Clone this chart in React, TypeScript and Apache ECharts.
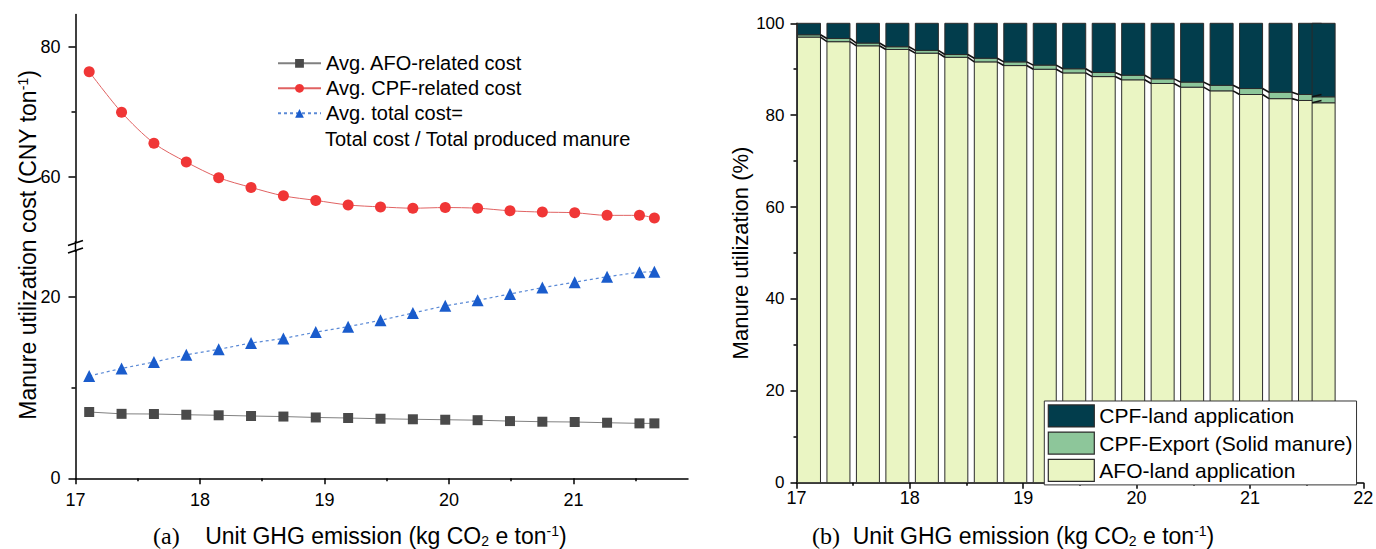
import React, { useEffect, useRef } from "react";
import * as echarts from "echarts";

// ---------- data ----------
const emission = [17.11, 17.37, 17.63, 17.89, 18.15, 18.41, 18.67, 18.93, 19.19, 19.45, 19.71, 19.97, 20.23, 20.49, 20.75, 21.01, 21.27, 21.53, 21.65];
const afoCost = [7.3, 7.1, 7.08, 7.0, 6.94, 6.86, 6.8, 6.7, 6.64, 6.56, 6.5, 6.45, 6.4, 6.3, 6.23, 6.2, 6.12, 6.05, 6.05];
const cpfCost = [76.2, 69.95, 65.2, 62.3, 59.9, 58.4, 57.1, 56.4, 55.7, 55.4, 55.2, 55.3, 55.2, 54.8, 54.6, 54.5, 54.1, 54.1, 53.7];
const totalCost = [11.27, 12.1, 12.8, 13.6, 14.2, 14.9, 15.4, 16.1, 16.7, 17.4, 18.2, 19.0, 19.6, 20.3, 21.0, 21.6, 22.2, 22.7, 22.75];

const afoLand = [97.0, 96.0, 95.1, 94.3, 93.5, 92.6, 91.6, 90.8, 90.0, 89.2, 88.4, 87.7, 86.9, 86.1, 85.3, 84.5, 83.6, 83.2, 82.7];
const cpfExport = [0.5, 0.7, 0.6, 0.6, 0.6, 0.6, 0.8, 0.8, 0.9, 0.9, 0.9, 1.0, 1.0, 1.1, 1.2, 1.3, 1.4, 1.3, 1.3];
const cpfLand = [2.5, 3.3, 4.3, 5.1, 5.9, 6.8, 7.6, 8.4, 9.1, 9.9, 10.7, 11.3, 12.1, 12.8, 13.5, 14.2, 15.0, 15.5, 16.0];

// tick labels
const xMajorLeft = [17, 18, 19, 20, 21];
const xMinorLeft = [17.5, 18.5, 19.5, 20.5, 21.5];
const yUpperMajor = [60, 80];
const yUpperMinor = [70];
const yLowerMajor = [0, 20];
const yLowerMinor = [10];

const legendLeft = ["Avg. AFO-related cost", "Avg. CPF-related cost", "Avg. total cost="];
const legendLeftExtra = "Total cost / Total produced manure";
const legendRight = ["CPF-land application", "CPF-Export (Solid manure)", "AFO-land application"];

const FONT = "'Liberation Sans', Arial, Helvetica, sans-serif";
const SERIF = "'Liberation Serif', 'Times New Roman', serif";
const BAR_W = 23;

const yTitleRich = {
  n: { fontFamily: FONT, fontSize: 23, lineHeight: 24, color: "#000" },
  sup: { fontFamily: FONT, fontSize: 14, lineHeight: 13, verticalAlign: "top", color: "#000" },
};
const xTitleRich = {
  s: { fontFamily: SERIF, fontSize: 24, lineHeight: 24, color: "#000" },
  n: { fontFamily: FONT, fontSize: 23, lineHeight: 24, color: "#000" },
  sub: { fontFamily: FONT, fontSize: 14, lineHeight: 14, verticalAlign: "bottom", color: "#000" },
  sup: { fontFamily: FONT, fontSize: 14, lineHeight: 14, verticalAlign: "top", color: "#000" },
};

// one stacked layer drawn from [x, low, high]
const layerRender = (params: any, api: any) => {
  const x = api.value(0);
  const pLow = api.coord([x, api.value(1)]);
  const pHigh = api.coord([x, api.value(2)]);
  return {
    type: "rect",
    shape: { x: pLow[0] - BAR_W / 2, y: pHigh[1], width: BAR_W, height: pLow[1] - pHigh[1] },
    style: api.style(),
  };
};

export default function App() {
  const ref = useRef<HTMLDivElement>(null);

  useEffect(() => {
    document.body.style.margin = "0";
    const chart = echarts.init(ref.current!, null, { renderer: "svg" });

    const axisLineStyle = { color: "#000", width: 1.5 };
    const lbl = (size: number, margin: number, extra: any = {}) => ({
      color: "#000",
      fontFamily: FONT,
      fontSize: size,
      margin,
      ...extra,
    });

    const afoTop = afoLand;
    const exportTop = afoLand.map((v, i) => v + cpfExport[i]);
    const landTop = exportTop.map((v, i) => v + cpfLand[i]);

    const connectorData = emission.slice(0, -1).map((x, i) => [
      x,
      emission[i + 1],
      afoTop[i],
      afoTop[i + 1],
      exportTop[i],
      exportTop[i + 1],
    ]);

    const option: any = {
      animation: false,
      backgroundColor: "#fff",
      textStyle: { fontFamily: FONT },
      grid: [
        { left: 75.5, top: 14.5, width: 612.5, height: 227.5, outerBoundsMode: "none" },
        { left: 75.5, top: 251.3, width: 612.5, height: 227, outerBoundsMode: "none" },
        { left: 796.5, top: 23.3, width: 566.8, height: 459.4, outerBoundsMode: "none" },
      ],
      xAxis: [
        { type: "value", gridIndex: 0, min: 17, max: 21.92, show: false },
        {
          type: "value", gridIndex: 1, min: 17, max: 21.92, position: "bottom",
          axisLine: { lineStyle: axisLineStyle },
          axisTick: { customValues: xMajorLeft, length: 6, lineStyle: axisLineStyle },
          axisLabel: lbl(18, 13, { customValues: xMajorLeft }),
          splitLine: { show: false },
        },
        {
          type: "value", gridIndex: 1, min: 17, max: 21.92, position: "bottom",
          axisLine: { show: false },
          axisTick: { customValues: xMinorLeft, length: 3, lineStyle: axisLineStyle },
          axisLabel: { show: false },
          splitLine: { show: false },
        },
        {
          type: "value", gridIndex: 2, min: 17, max: 22, interval: 1,
          axisLine: { lineStyle: axisLineStyle },
          axisTick: { length: 6, lineStyle: axisLineStyle },
          minorTick: { show: true, splitNumber: 2, length: 3, lineStyle: axisLineStyle },
          axisLabel: lbl(18, 6),
          splitLine: { show: false },
        },
      ],
      yAxis: [
        {
          type: "value", gridIndex: 0, min: 50, max: 85, position: "left",
          axisLine: { show: true, lineStyle: axisLineStyle },
          axisTick: { show: true, customValues: yUpperMajor, length: 7, lineStyle: axisLineStyle },
          axisLabel: lbl(18, 15, { customValues: yUpperMajor }),
          splitLine: { show: false },
        },
        {
          type: "value", gridIndex: 0, min: 50, max: 85, position: "left",
          axisLine: { show: false },
          axisTick: { show: true, customValues: yUpperMinor, length: 4, lineStyle: axisLineStyle },
          axisLabel: { show: false },
          splitLine: { show: false },
        },
        {
          type: "value", gridIndex: 1, min: 0, max: 25, position: "left",
          axisLine: { show: true, lineStyle: axisLineStyle },
          axisTick: { show: true, customValues: yLowerMajor, length: 7, lineStyle: axisLineStyle },
          axisLabel: lbl(18, 15, { customValues: yLowerMajor }),
          splitLine: { show: false },
        },
        {
          type: "value", gridIndex: 1, min: 0, max: 25, position: "left",
          axisLine: { show: false },
          axisTick: { show: true, customValues: yLowerMinor, length: 4, lineStyle: axisLineStyle },
          axisLabel: { show: false },
          splitLine: { show: false },
        },
        {
          type: "value", gridIndex: 2, min: 0, max: 100, interval: 20,
          name: "Manure utilization (%)",
          nameLocation: "middle",
          nameGap: 45,
          nameTextStyle: { fontFamily: FONT, fontSize: 22, color: "#000" },
          axisLine: { show: true, lineStyle: axisLineStyle },
          axisTick: { show: true, length: 6, lineStyle: axisLineStyle },
          minorTick: { show: true, splitNumber: 2, length: 3, lineStyle: axisLineStyle },
          axisLabel: lbl(17, 12),
          splitLine: { show: false },
        },
      ],
      legend: [
        {
          data: legendLeft,
          orient: "vertical",
          left: 277,
          top: 52.8,
          padding: 0,
          itemWidth: 43,
          itemHeight: 11,
          itemGap: 4,
          textStyle: { fontFamily: FONT, fontSize: 20, color: "#000", lineHeight: 21 },
        },
        {
          data: legendRight,
          orient: "vertical",
          left: 1044.3,
          top: 401,
          padding: [3.3, 4, 3, 3.4],
          icon: "rect",
          itemWidth: 46,
          itemHeight: 22,
          itemGap: 4,
          backgroundColor: "#fff",
          borderColor: "#333",
          borderWidth: 1,
          itemStyle: { borderColor: "#2b2b2b", borderWidth: 1.2 },
          textStyle: { fontFamily: FONT, fontSize: 21, color: "#000", lineHeight: 22 },
        },
      ],
      series: [
        {
          name: legendLeft[0],
          type: "line",
          xAxisIndex: 1,
          yAxisIndex: 2,
          data: emission.map((x, i) => [x, afoCost[i]]),
          symbol: "rect",
          symbolSize: 10,
          itemStyle: { color: "#4a4a4a" },
          lineStyle: { color: "#808080", width: 1 },
        },
        {
          name: legendLeft[1],
          type: "line",
          xAxisIndex: 0,
          yAxisIndex: 0,
          data: emission.map((x, i) => [x, cpfCost[i]]),
          symbol: "circle",
          symbolSize: 11,
          smooth: 0.3,
          itemStyle: { color: "#f03636" },
          lineStyle: { color: "#e06262", width: 1 },
        },
        {
          name: legendLeft[2],
          type: "line",
          xAxisIndex: 1,
          yAxisIndex: 2,
          data: emission.map((x, i) => [x, totalCost[i]]),
          symbol: "triangle",
          symbolSize: 12,
          itemStyle: { color: "#1a5ccc" },
          lineStyle: { color: "#5b8ad6", width: 1.2, type: [3, 3] },
        },
        {
          name: legendRight[2],
          type: "custom",
          xAxisIndex: 3,
          yAxisIndex: 4,
          encode: { x: 0, y: [1, 2] },
          data: emission.map((x, i) => [x, 0, afoTop[i]]),
          itemStyle: { color: "#eaf5c3", borderColor: "#2b2b2b", borderWidth: 1 },
          renderItem: layerRender,
        },
        {
          name: legendRight[1],
          type: "custom",
          xAxisIndex: 3,
          yAxisIndex: 4,
          encode: { x: 0, y: [1, 2] },
          data: emission.map((x, i) => [x, afoTop[i], exportTop[i]]),
          itemStyle: { color: "#8dc69a", borderColor: "#2b2b2b", borderWidth: 1 },
          renderItem: layerRender,
        },
        {
          name: legendRight[0],
          type: "custom",
          xAxisIndex: 3,
          yAxisIndex: 4,
          encode: { x: 0, y: [1, 2] },
          data: emission.map((x, i) => [x, exportTop[i], landTop[i]]),
          itemStyle: { color: "#023d4c", borderColor: "#2b2b2b", borderWidth: 1 },
          renderItem: layerRender,
        },
        {
          type: "custom",
          xAxisIndex: 3,
          yAxisIndex: 4,
          z: 5,
          silent: true,
          data: connectorData,
          encode: { x: [0, 1], y: [2, 3, 4, 5] },
          renderItem: (params: any, api: any) => {
            const x0 = api.value(0);
            const x1 = api.value(1);
            const children: any[] = [];
            [[2, 3], [4, 5]].forEach(([a, b]) => {
              const p0 = api.coord([x0, api.value(a)]);
              const p1 = api.coord([x1, api.value(b)]);
              children.push({
                type: "line",
                shape: { x1: p0[0] + BAR_W / 2, y1: p0[1], x2: p1[0] - BAR_W / 2, y2: p1[1] },
                style: { stroke: "#111", lineWidth: 1.6 },
              });
            });
            return { type: "group", children };
          },
        },
      ],
      graphic: [
        { type: "line", shape: { x1: 75.5, y1: 241, x2: 75.5, y2: 252 }, style: { stroke: "#000", lineWidth: 1.5 } },
        { type: "line", shape: { x1: 68, y1: 245.5, x2: 83, y2: 240.5 }, style: { stroke: "#000", lineWidth: 1.5 } },
        { type: "line", shape: { x1: 68, y1: 253, x2: 83, y2: 248 }, style: { stroke: "#000", lineWidth: 1.5 } },
        {
          type: "text",
          left: 325,
          top: 129,
          style: { text: legendLeftExtra, fontFamily: FONT, fontSize: 20, fill: "#000" },
        },
        {
          type: "text",
          x: 28,
          y: 245,
          rotation: Math.PI / 2,
          style: {
            text: "{n|Manure utilization cost (CNY ton}{sup|-1}{n|)}",
            rich: yTitleRich,
            align: "center",
            verticalAlign: "middle",
          },
        },
        {
          type: "text",
          x: 153,
          y: 536,
          style: {
            text: "{s|(a)}{n|    Unit GHG emission (kg CO}{sub|2}{n| e ton}{sup|-1}{n|)}",
            rich: xTitleRich,
            align: "left",
            verticalAlign: "middle",
          },
        },
        {
          type: "text",
          x: 812,
          y: 536,
          style: {
            text: "{s|(b)}{n|  Unit GHG emission (kg CO}{sub|2}{n| e ton}{sup|-1}{n|)}",
            rich: xTitleRich,
            align: "left",
            verticalAlign: "middle",
          },
        },
      ],
    };

    chart.setOption(option);
    return () => chart.dispose();
  }, []);

  return <div ref={ref} style={{ width: 1376, height: 549 }} />;
}
